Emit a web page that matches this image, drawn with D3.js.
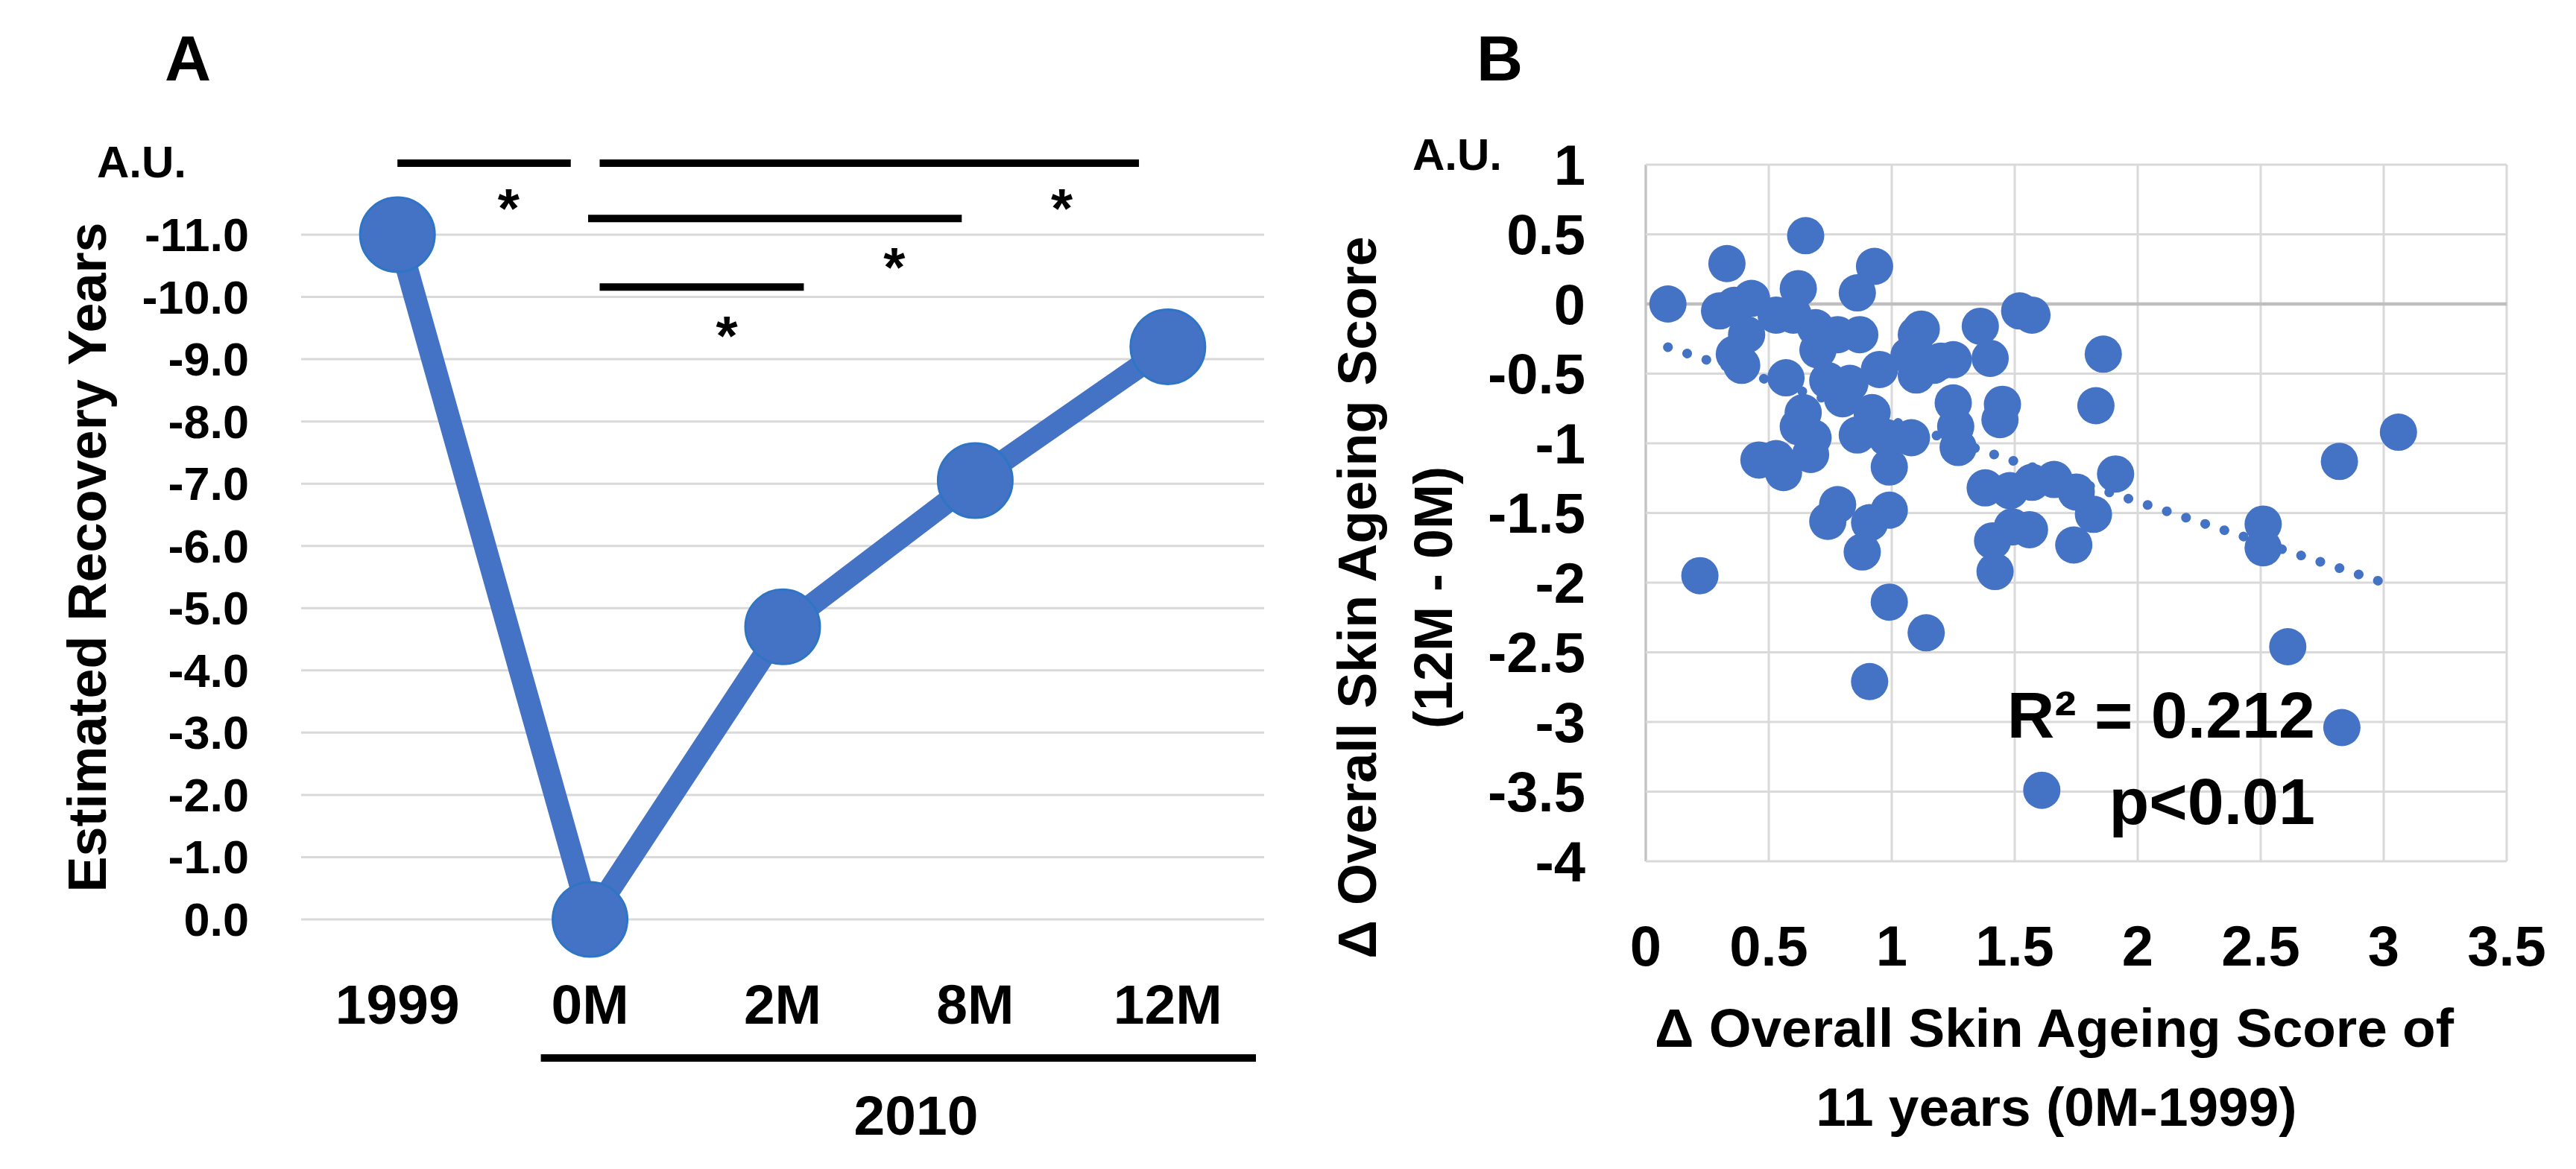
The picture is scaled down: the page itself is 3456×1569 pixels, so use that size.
<!DOCTYPE html>
<html>
<head>
<meta charset="utf-8">
<script src="https://cdn.jsdelivr.net/npm/d3@7"></script>
<style>
  html, body { margin: 0; padding: 0; background: #fff; }
  svg { display: block; }
  text { font-family: "Liberation Sans", Arial, sans-serif; font-weight: bold; fill: #000; }
</style>
</head>
<body>
<svg id="chart" width="3456" height="1569" viewBox="0 0 3456 1569"></svg>
<script>
// ---------------- Panel A data ----------------
const categoriesA = ["1999", "0M", "2M", "8M", "12M"];
const recoveryYears = [-11.0, 0.0, -4.7, -7.05, -9.2];
const yTicksA = [0, -1, -2, -3, -4, -5, -6, -7, -8, -9, -10, -11];
const yTickLabelsA = ["0.0", "-1.0", "-2.0", "-3.0", "-4.0", "-5.0", "-6.0", "-7.0", "-8.0", "-9.0", "-10.0", "-11.0"];
// significance brackets: category-index span and level (in axis units)
const sigFrom = [0.0, 1.05, 0.99, 1.05];
const sigTo = [0.9, 3.85, 2.93, 2.11];
const sigLevel = [-12.15, -12.15, -11.26, -10.16];
const starIndex = [0.577, 3.45, 2.58, 1.71];
const starLevel = [-11.63, -11.63, -10.69, -9.59];
const groupLabel = "2010";

// ---------------- Panel B data ----------------
const scatterX = [0.09, 0.22, 0.33, 0.30, 0.36, 0.43, 0.41, 0.36, 0.39, 0.46,
  0.53, 0.56, 0.53, 0.60, 0.57, 0.62, 0.65, 0.69, 0.70, 0.78,
  0.87, 0.86, 0.93, 0.74, 0.83, 0.80, 0.95, 0.64, 0.62, 0.68,
  0.67, 0.86, 0.92, 0.99, 0.98, 0.78, 0.74, 0.91, 0.99, 0.88,
  0.91, 0.99, 1.14, 1.10, 1.07, 1.10, 1.17, 1.25, 1.12, 1.08,
  1.36, 1.40, 1.52, 1.57, 1.86, 1.83, 1.25, 1.45, 1.44, 1.26,
  1.27, 1.38, 1.48, 1.57, 1.66, 1.75, 1.82, 1.91, 1.41, 1.49,
  1.56, 1.42, 1.74, 2.51, 2.51, 2.61, 2.82, 2.83, 3.06, 1.20];
const scatterY = [0.00, -1.95, 0.29, -0.05, -0.01, 0.04, -0.22, -0.36, -0.44, -1.12,
  -1.11, -1.21, -0.08, -0.08, -0.53, 0.11, 0.49, -0.17, -0.33, -0.22,
  -0.22, 0.08, 0.27, -0.55, -0.57, -0.68, -0.47, -0.78, -0.88, -0.96,
  -1.08, -0.94, -0.78, -1.17, -0.96, -1.44, -1.56, -1.57, -1.48, -1.78,
  -2.71, -2.14, -2.36, -0.22, -0.37, -0.51, -0.44, -0.40, -0.18, -0.96,
  -0.16, -0.39, -0.05, -0.08, -0.36, -0.73, -0.71, -0.72, -0.83, -0.88,
  -1.03, -1.32, -1.34, -1.28, -1.26, -1.35, -1.51, -1.22, -1.70, -1.60,
  -1.62, -1.92, -1.73, -1.58, -1.75, -2.46, -1.13, -3.04, -0.92, -0.41];
const trendX = [0.09, 3.0];
const trendY = [-0.31, -2.0];
const xTicksB = [0, 0.5, 1, 1.5, 2, 2.5, 3, 3.5];
const xTickLabelsB = ["0", "0.5", "1", "1.5", "2", "2.5", "3", "3.5"];
const yTicksB = [1, 0.5, 0, -0.5, -1, -1.5, -2, -2.5, -3, -3.5, -4];
const yTickLabelsB = ["1", "0.5", "0", "-0.5", "-1", "-1.5", "-2", "-2.5", "-3", "-3.5", "-4"];
const legendPoint = [1.61, -3.49];
const statText = ["R² = 0.212", "p<0.01"];

// ---------------- styles ----------------
const BLUE = "#4472C4";
const GRID = "#d9d9d9";

const svg = d3.select("#chart");

// ================= Panel A =================
const gA = svg.append("g");
const xA = d3.scaleBand().domain(categoriesA).range([404, 1696]);
const xAc = c => xA(c) + xA.bandwidth() / 2;
const xIdx = d3.scaleLinear().domain([0, categoriesA.length - 1])
  .range([xAc(categoriesA[0]), xAc(categoriesA[categoriesA.length - 1])]);
const yA = d3.scaleLinear().domain([0, -11]).range([1234, 315]);

// gridlines
gA.append("g").selectAll("line").data(yTicksA).join("line")
  .attr("x1", 404).attr("x2", 1696)
  .attr("y1", d => yA(d)).attr("y2", d => yA(d))
  .attr("stroke", GRID).attr("stroke-width", 3);

// y tick labels
gA.append("g").selectAll("text").data(yTicksA).join("text")
  .attr("x", 334).attr("y", d => yA(d))
  .attr("text-anchor", "end").attr("dominant-baseline", "central")
  .attr("font-size", 63)
  .text((d, i) => yTickLabelsA[i]);

// x tick labels
gA.append("g").selectAll("text").data(categoriesA).join("text")
  .attr("x", d => xAc(d)).attr("y", 1374)
  .attr("text-anchor", "middle").attr("font-size", 75)
  .text(d => d);

// 2010 group bracket
gA.append("line")
  .attr("x1", xAc("0M") - 66).attr("x2", xA("12M") + xA.bandwidth() - 11)
  .attr("y1", 1420).attr("y2", 1420)
  .attr("stroke", "#000").attr("stroke-width", 10);
gA.append("text").attr("x", 1229).attr("y", 1523)
  .attr("text-anchor", "middle").attr("font-size", 75).text(groupLabel);

// line + markers
const ptsA = categoriesA.map((c, i) => [xAc(c), yA(recoveryYears[i])]);
gA.append("path").datum(ptsA)
  .attr("d", d3.line())
  .attr("fill", "none").attr("stroke", BLUE)
  .attr("stroke-width", 30).attr("stroke-linejoin", "round");
gA.append("g").selectAll("circle").data(ptsA).join("circle")
  .attr("cx", d => d[0]).attr("cy", d => d[1]).attr("r", 50)
  .attr("fill", BLUE).attr("stroke", "#2E75C6").attr("stroke-width", 3);

// significance brackets
gA.append("g").selectAll("line").data(sigFrom).join("line")
  .attr("x1", d => xIdx(d)).attr("x2", (d, i) => xIdx(sigTo[i]))
  .attr("y1", (d, i) => yA(sigLevel[i])).attr("y2", (d, i) => yA(sigLevel[i]))
  .attr("stroke", "#000").attr("stroke-width", 10);
gA.append("g").selectAll("text").data(starIndex).join("text")
  .attr("x", d => xIdx(d)).attr("y", (d, i) => yA(starLevel[i]) + 43)
  .attr("text-anchor", "middle").attr("font-size", 75).text("*");

// y title, A.U., panel letter
gA.append("text")
  .attr("transform", "translate(142,748) rotate(-90)")
  .attr("text-anchor", "middle").attr("font-size", 72)
  .text("Estimated Recovery Years");
gA.append("text").attr("x", 190).attr("y", 238)
  .attr("text-anchor", "middle").attr("font-size", 60).text("A.U.");
gA.append("text").attr("x", 252).attr("y", 108)
  .attr("text-anchor", "middle").attr("font-size", 86).text("A");

// ================= Panel B =================
const gB = svg.append("g");
const xB = d3.scaleLinear().domain([0, 3.5]).range([2208, 3363]);
const yB = d3.scaleLinear().domain([-4, 1]).range([1156, 221]);

// gridlines
gB.append("g").selectAll("line").data(xTicksB).join("line")
  .attr("x1", d => xB(d)).attr("x2", d => xB(d))
  .attr("y1", yB(1)).attr("y2", yB(-4))
  .attr("stroke", d => d === 0 ? "#c4c4c4" : GRID)
  .attr("stroke-width", d => d === 0 ? 3.5 : 3);
gB.append("g").selectAll("line").data(yTicksB).join("line")
  .attr("x1", xB(0)).attr("x2", xB(3.5))
  .attr("y1", d => yB(d)).attr("y2", d => yB(d))
  .attr("stroke", d => d === 0 ? "#bfbfbf" : GRID)
  .attr("stroke-width", d => d === 0 ? 4.5 : 3);

// tick labels
gB.append("g").selectAll("text").data(yTicksB).join("text")
  .attr("x", 2127).attr("y", d => yB(d))
  .attr("text-anchor", "end").attr("dominant-baseline", "central")
  .attr("font-size", 76)
  .text((d, i) => yTickLabelsB[i]);
gB.append("g").selectAll("text").data(xTicksB).join("text")
  .attr("x", d => xB(d)).attr("y", 1296)
  .attr("text-anchor", "middle").attr("font-size", 76)
  .text((d, i) => xTickLabelsB[i]);

// points
gB.append("g").selectAll("circle").data(scatterX).join("circle")
  .attr("cx", d => xB(d)).attr("cy", (d, i) => yB(scatterY[i])).attr("r", 25)
  .attr("fill", BLUE);

// dotted trendline
gB.append("line")
  .attr("x1", xB(trendX[0])).attr("y1", yB(trendY[0]))
  .attr("x2", xB(trendX[1])).attr("y2", yB(trendY[1]))
  .attr("stroke", BLUE).attr("stroke-width", 13)
  .attr("stroke-linecap", "round").attr("stroke-dasharray", "0.1 27");

// legend dot + stats
gB.append("circle")
  .attr("cx", xB(legendPoint[0])).attr("cy", yB(legendPoint[1])).attr("r", 25)
  .attr("fill", BLUE);
gB.append("text").attr("x", 3106).attr("y", 990)
  .attr("text-anchor", "end").attr("font-size", 88).text(statText[0]);
gB.append("text").attr("x", 3106).attr("y", 1106)
  .attr("text-anchor", "end").attr("font-size", 88).text(statText[1]);

// axis titles
const yTitleB = gB.append("text")
  .attr("transform", "translate(1846,802) rotate(-90)")
  .attr("text-anchor", "middle").attr("font-size", 72);
yTitleB.append("tspan").attr("x", 0).attr("dy", 0).text("Δ Overall Skin Ageing Score");
yTitleB.append("tspan").attr("x", 0).attr("dy", 102).text("(12M - 0M)");

gB.append("text").attr("x", 2756).attr("y", 1405)
  .attr("text-anchor", "middle").attr("font-size", 73).text("Δ Overall Skin Ageing Score of");
gB.append("text").attr("x", 2759).attr("y", 1511)
  .attr("text-anchor", "middle").attr("font-size", 73).text("11 years (0M-1999)");

gB.append("text").attr("x", 1955).attr("y", 228)
  .attr("text-anchor", "middle").attr("font-size", 60).text("A.U.");
gB.append("text").attr("x", 2012).attr("y", 108)
  .attr("text-anchor", "middle").attr("font-size", 86).text("B");
</script>
</body>
</html>
